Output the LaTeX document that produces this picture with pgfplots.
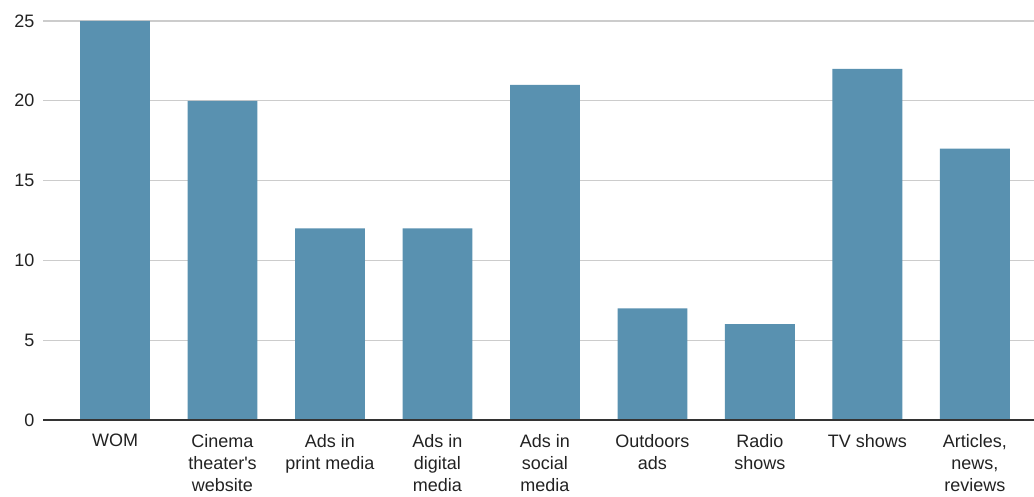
\documentclass[border=0pt]{standalone}
\usepackage{pgfplots}
\pgfplotsset{compat=1.18}
\usepackage{fontspec}
\setmainfont{Liberation Sans}[Ligatures=TeXOff]
\definecolor{barc}{RGB}{89,145,176}
\definecolor{gridc}{RGB}{204,204,204}
\definecolor{txtc}{RGB}{34,34,34}
\begin{document}
\begin{tikzpicture}[x=0.75pt,y=0.75pt]
\begin{axis}[
  at={(0,0)}, anchor=south west,
  scale only axis,
  width=743.25pt, height=299.25pt,
  xmin=-0.67, xmax=8.55,
  ymin=0, ymax=25,
  ytick={0,5,...,25},
  xtick={0,...,8},
  xticklabels={WOM,Cinema\\theater's\\website,Ads in\\print media,Ads in\\digital\\media,Ads in\\social\\media,Outdoors\\ads,Radio\\shows,TV shows,{Articles,\\news,\\reviews}},
  xticklabel style={align=center, font=\fontsize{13.5pt}{16.5pt}\selectfont, text=txtc, anchor=north, yshift=-7pt},
  yticklabel style={font=\fontsize{13.5pt}{15pt}\selectfont, text=txtc, xshift=-3pt},
  /pgf/number format/assume math mode=true,
  axis line style={draw=none},
  major tick length=0pt,
  ymajorgrids, grid style={gridc, line width=0.8pt},
  clip=false,
]
\addplot[ybar, bar width=0.65, fill=barc, draw=none] coordinates {
(0,25) (1,20) (2,12) (3,12) (4,21) (5,7) (6,6) (7,22) (8,17)};
\draw[black!80, line width=1.2pt] (axis cs:-0.67,0) -- (axis cs:8.55,0);
\end{axis}
\pgfresetboundingbox
\path[use as bounding box] (-43,-76) rectangle (991,420);
\end{tikzpicture}
\end{document}
